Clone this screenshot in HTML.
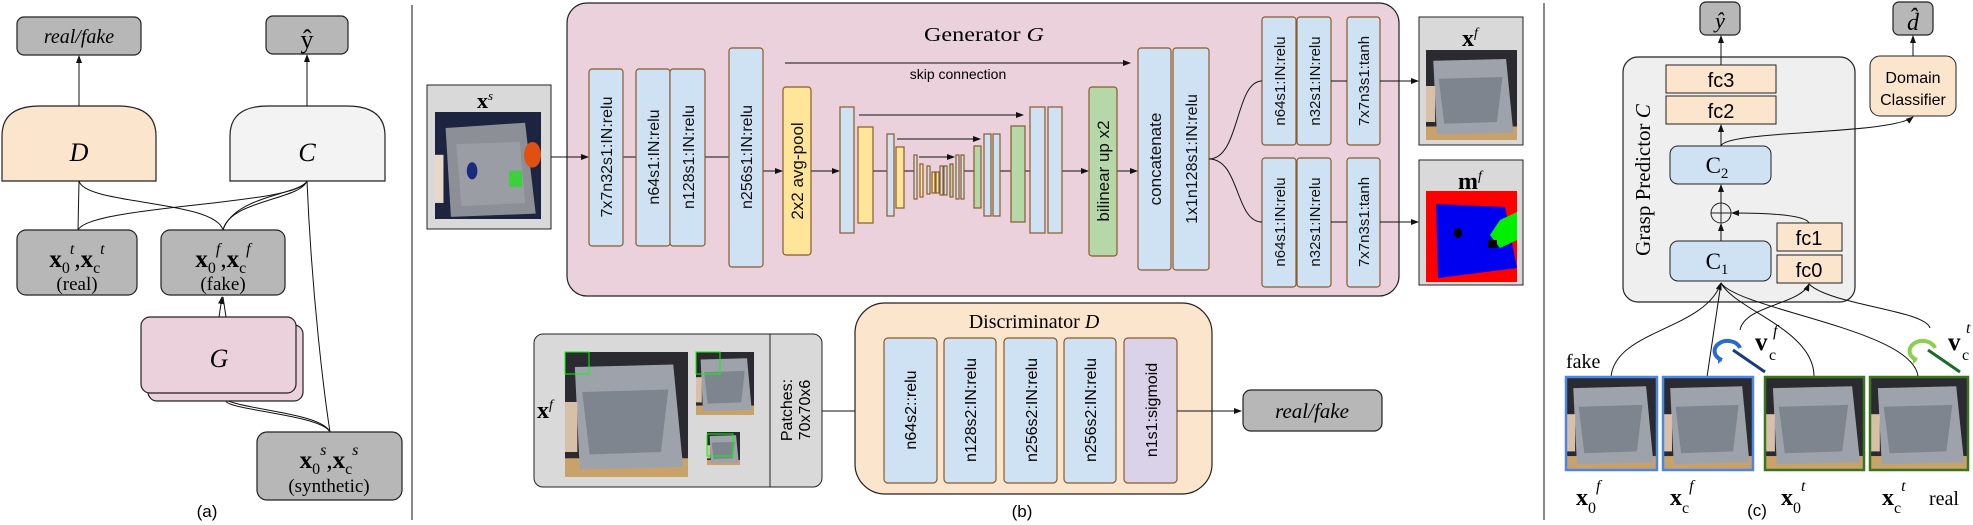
<!DOCTYPE html>
<html><head><meta charset="utf-8"><style>
html,body{margin:0;padding:0;background:#fff;}
svg{display:block;}
.s{font-family:"Liberation Sans",sans-serif;}
.r{font-family:"Liberation Serif",serif;}
</style></head><body>
<svg width="1973" height="525" viewBox="0 0 1973 525" xmlns="http://www.w3.org/2000/svg">
<defs>
<marker id="a" markerWidth="8" markerHeight="8" refX="7" refY="4" orient="auto" markerUnits="userSpaceOnUse"><path d="M0,1 L8,4 L0,7 z" fill="#111"/></marker>
<g id="tray">
<rect x="0" y="0" width="100" height="100" fill="#2a2a30"/>
<rect x="0" y="85" width="100" height="15" fill="#c9a26a"/>
<polygon points="8,12 88,10 96,92 12,94" fill="#9ea3ab"/>
<polygon points="14,32 84,30 78,80 20,82" fill="#7f858f"/>
<rect x="0" y="40" width="10" height="40" fill="#d8c0a8"/>
</g>
</defs>
<g fill="none" stroke="#111" stroke-width="1.3">
<line x1="412" y1="5" x2="412" y2="520" stroke-width="1"/>
<line x1="1544" y1="3" x2="1544" y2="520" stroke-width="1"/>
</g>

<!-- ===== Panel (a) ===== -->
<rect x="17" y="17" width="124" height="38" rx="7" fill="#b7b7b7" stroke="#222" stroke-width="1.2"/>
<text x="79" y="43" class="r" font-size="20" font-style="italic" text-anchor="middle">real/fake</text>
<rect x="266" y="16" width="82" height="38" rx="7" fill="#b7b7b7" stroke="#222" stroke-width="1.2"/>
<text x="307" y="48" class="r" font-size="26" text-anchor="middle">ŷ</text>
<path d="M2,181 V136 Q2,106 40,106 H118 Q156,106 156,136 V181 Z" fill="#fce5cd" stroke="#222" stroke-width="1.2"/>
<text x="79" y="161" class="r" font-size="26" font-style="italic" text-anchor="middle">D</text>
<path d="M230,181 V136 Q230,106 268,106 H347 Q385,106 385,136 V181 Z" fill="#f3f3f3" stroke="#222" stroke-width="1.2"/>
<text x="307" y="161" class="r" font-size="26" font-style="italic" text-anchor="middle">C</text>
<g stroke="#111" stroke-width="1" fill="none">
<line x1="79" y1="106" x2="79" y2="56" marker-end="url(#a)"/>
<line x1="307" y1="106" x2="307" y2="55" marker-end="url(#a)"/>
<path d="M79,181 L78,230"/>
<path d="M79,181 C85,205 215,200 223,230"/>
<path d="M307,181 C300,205 90,205 78,230"/>
<path d="M307,181 C300,200 230,200 223,230"/>
<path d="M307,181 C300,195 235,195 223,230"/>
<path d="M307,181 C312,300 325,400 330,432"/>
<path d="M218,393 C220,410 320,410 330,432"/>
<path d="M226,401 C228,410 322,415 330,432"/>
<line x1="219" y1="317" x2="222" y2="297" marker-end="url(#a)"/>
<line x1="226" y1="317" x2="223" y2="297"/>
</g>
<rect x="17" y="230" width="120" height="65" rx="9" fill="#b7b7b7" stroke="#222" stroke-width="1.2"/>
<text x="77" y="267" class="r" font-size="25" text-anchor="middle"><tspan font-weight="bold">x</tspan><tspan font-size="16" dy="6">0</tspan><tspan font-size="16" dy="-19" font-style="italic">t</tspan><tspan dy="13">,</tspan><tspan font-weight="bold">x</tspan><tspan font-size="16" dy="6">c</tspan><tspan font-size="16" dy="-19" font-style="italic">t</tspan></text>
<text x="77" y="290" class="r" font-size="19" text-anchor="middle">(real)</text>
<rect x="161" y="230" width="124" height="65" rx="9" fill="#b7b7b7" stroke="#222" stroke-width="1.2"/>
<text x="223" y="267" class="r" font-size="25" text-anchor="middle"><tspan font-weight="bold">x</tspan><tspan font-size="16" dy="6">0</tspan><tspan font-size="16" dy="-19" font-style="italic">f</tspan><tspan dy="13">,</tspan><tspan font-weight="bold">x</tspan><tspan font-size="16" dy="6">c</tspan><tspan font-size="16" dy="-19" font-style="italic">f</tspan></text>
<text x="223" y="290" class="r" font-size="19" text-anchor="middle">(fake)</text>
<rect x="148" y="325" width="155" height="76" rx="9" fill="#ead1dc" stroke="#222" stroke-width="1.2"/>
<rect x="141" y="317" width="155" height="76" rx="9" fill="#ead1dc" stroke="#222" stroke-width="1.2"/>
<text x="219" y="367" class="r" font-size="26" font-style="italic" text-anchor="middle">G</text>
<rect x="257" y="432" width="145" height="68" rx="10" fill="#b7b7b7" stroke="#222" stroke-width="1.2"/>
<text x="329" y="468" class="r" font-size="25" text-anchor="middle"><tspan font-weight="bold">x</tspan><tspan font-size="16" dy="6">0</tspan><tspan font-size="16" dy="-19" font-style="italic">s</tspan><tspan dy="13">,</tspan><tspan font-weight="bold">x</tspan><tspan font-size="16" dy="6">c</tspan><tspan font-size="16" dy="-19" font-style="italic">s</tspan></text>
<text x="329" y="492" class="r" font-size="19" text-anchor="middle">(synthetic)</text>
<text x="207" y="517" class="s" font-size="17" text-anchor="middle">(a)</text>

<!-- ===== Panel (b) Generator ===== -->
<rect x="567" y="3" width="832" height="293" rx="20" fill="#ead1dc" stroke="#222" stroke-width="1.2"/>
<text x="984" y="41" class="r" font-size="20" text-anchor="middle" textLength="120" lengthAdjust="spacingAndGlyphs">Generator <tspan font-style="italic">G</tspan></text>
<line x1="785" y1="63" x2="1130" y2="63" stroke="#111" stroke-width="1" marker-end="url(#a)"/>
<text x="958" y="79" class="s" font-size="14" text-anchor="middle">skip connection</text>
<rect x="427" y="85" width="124" height="144" fill="#d9d9d9" stroke="#222" stroke-width="1"/>
<text x="485" y="108" class="r" font-size="22" font-weight="bold" text-anchor="middle">x<tspan font-size="13" dy="-8" font-style="italic" font-weight="normal">s</tspan></text>
<svg x="435" y="112" width="106" height="107" viewBox="0 0 100 100" preserveAspectRatio="none">
<rect width="100" height="100" fill="#1c2440"/><polygon points="10,15 85,10 95,95 15,98" fill="#8c8f96"/><polygon points="20,30 80,28 85,85 25,88" fill="#9a9da3"/><ellipse cx="35" cy="55" rx="5" ry="8" fill="#1a2a80"/><rect x="70" y="55" width="12" height="15" fill="#3ad13a"/><ellipse cx="92" cy="40" rx="8" ry="12" fill="#e05010"/><rect y="40" width="8" height="45" fill="#e8d8c8"/></svg>
<g stroke="#111" stroke-width="1" fill="none">
<line x1="551" y1="157" x2="588" y2="157" marker-end="url(#a)"/>
<line x1="623" y1="157" x2="636" y2="157"/>
<line x1="705" y1="157" x2="729" y2="157"/>
<line x1="763" y1="171" x2="782" y2="171" marker-end="url(#a)"/>
<line x1="811" y1="171" x2="839" y2="171" marker-end="url(#a)"/>
<line x1="1062" y1="171" x2="1088" y2="171" marker-end="url(#a)"/>
<line x1="1117" y1="171" x2="1137" y2="171" marker-end="url(#a)"/>
<line x1="873" y1="171" x2="887" y2="171"/><line x1="904" y1="171" x2="914" y2="171"/>
<line x1="964" y1="171" x2="974" y2="171"/><line x1="1000" y1="171" x2="1011" y2="171"/>
<line x1="1025" y1="171" x2="1030" y2="171"/>
<line x1="859" y1="115" x2="1023" y2="115" marker-end="url(#a)"/>
<line x1="897" y1="139" x2="980" y2="139" marker-end="url(#a)"/>
<line x1="919" y1="157" x2="954" y2="157" marker-end="url(#a)"/>
</g>
<g stroke="#8a5a2a" stroke-width="1.2">
<rect x="589" y="69" width="34" height="177" rx="3" fill="#cfe2f3"/>
<rect x="636" y="69" width="34" height="177" rx="3" fill="#cfe2f3"/>
<rect x="670" y="69" width="35" height="177" rx="3" fill="#cfe2f3"/>
<rect x="729" y="48" width="34" height="219" rx="3" fill="#cfe2f3"/>
<rect x="783" y="87" width="28" height="168" rx="3" fill="#ffe599"/>
<rect x="840" y="107" width="14" height="126" fill="#cfe2f3"/>
<rect x="858" y="127" width="15" height="96" fill="#ffe599"/>
<rect x="887" y="134" width="7" height="82" fill="#cfe2f3"/>
<rect x="896" y="147" width="8" height="61" fill="#ffe599"/>
<rect x="914" y="155" width="3" height="44" fill="#cfe2f3"/>
<rect x="920" y="164" width="3" height="33" fill="#ffe599"/>
<rect x="927" y="166" width="3" height="28" fill="#cfe2f3"/>
<rect x="932" y="172" width="3" height="21" fill="#ffe599"/>
<rect x="936" y="172" width="3" height="21" fill="#ffe599"/>
<rect x="940" y="166" width="3" height="29" fill="#cfe2f3"/>
<rect x="944" y="166" width="3" height="29" fill="#cfe2f3"/>
<rect x="950" y="164" width="3" height="33" fill="#b6d7a8"/>
<rect x="956" y="155" width="3" height="44" fill="#cfe2f3"/>
<rect x="961" y="155" width="3" height="44" fill="#cfe2f3"/>
<rect x="974" y="146" width="7" height="62" fill="#b6d7a8"/>
<rect x="984" y="134" width="7" height="82" fill="#cfe2f3"/>
<rect x="993" y="134" width="7" height="82" fill="#cfe2f3"/>
<rect x="1011" y="126" width="14" height="96" fill="#b6d7a8"/>
<rect x="1030" y="107" width="15" height="126" fill="#cfe2f3"/>
<rect x="1048" y="107" width="14" height="126" fill="#cfe2f3"/>
<rect x="1089" y="87" width="28" height="169" rx="3" fill="#b6d7a8"/>
<rect x="1138" y="48" width="33" height="222" rx="3" fill="#cfe2f3"/>
<rect x="1173" y="48" width="36" height="222" rx="3" fill="#cfe2f3"/>
<rect x="1262" y="17" width="34" height="128" rx="3" fill="#cfe2f3"/>
<rect x="1297" y="17" width="34" height="128" rx="3" fill="#cfe2f3"/>
<rect x="1347" y="17" width="33" height="128" rx="3" fill="#cfe2f3"/>
<rect x="1262" y="158" width="34" height="129" rx="3" fill="#cfe2f3"/>
<rect x="1297" y="158" width="34" height="129" rx="3" fill="#cfe2f3"/>
<rect x="1347" y="158" width="33" height="129" rx="3" fill="#cfe2f3"/>
</g>
<g class="s" font-size="16" text-anchor="middle" fill="#111">
<text transform="translate(612,157) rotate(-90)">7x7n32s1:IN:relu</text>
<text transform="translate(659,157) rotate(-90)">n64s1:IN:relu</text>
<text transform="translate(694,157) rotate(-90)">n128s1:IN:relu</text>
<text transform="translate(752,157) rotate(-90)">n256s1:IN:relu</text>
<text transform="translate(803,171) rotate(-90)" font-size="17">2x2 avg-pool</text>
<text transform="translate(1109,171) rotate(-90)" font-size="17">bilinear up x2</text>
<text transform="translate(1161,159) rotate(-90)" font-size="17">concatenate</text>
<text transform="translate(1197,159) rotate(-90)">1x1n128s1:IN:relu</text>
<text transform="translate(1285,81) rotate(-90)" font-size="15">n64s1:IN:relu</text>
<text transform="translate(1320,81) rotate(-90)" font-size="15">n32s1:IN:relu</text>
<text transform="translate(1369,81) rotate(-90)" font-size="15">7x7n3s1:tanh</text>
<text transform="translate(1285,222) rotate(-90)" font-size="15">n64s1:IN:relu</text>
<text transform="translate(1320,222) rotate(-90)" font-size="15">n32s1:IN:relu</text>
<text transform="translate(1369,222) rotate(-90)" font-size="15">7x7n3s1:tanh</text>
</g>
<g stroke="#111" stroke-width="1" fill="none">
<path d="M1209,159 C1240,159 1235,81 1262,81"/>
<path d="M1209,159 C1240,159 1235,222 1262,222"/>
<line x1="1331" y1="81" x2="1347" y2="81"/><line x1="1331" y1="222" x2="1347" y2="222"/>
<line x1="1380" y1="81" x2="1418" y2="81" marker-end="url(#a)"/>
<line x1="1380" y1="222" x2="1418" y2="222" marker-end="url(#a)"/>
</g>
<rect x="1419" y="17" width="104" height="128" fill="#d9d9d9" stroke="#222" stroke-width="1"/>
<text x="1470" y="46" class="r" font-size="24" font-weight="bold" text-anchor="middle">x<tspan font-size="14" dy="-9" font-style="italic" font-weight="normal">f</tspan></text>
<svg x="1426" y="50" width="91" height="90" viewBox="0 0 100 100" preserveAspectRatio="none"><use href="#tray"/></svg>
<rect x="1419" y="160" width="104" height="125" fill="#d9d9d9" stroke="#222" stroke-width="1"/>
<text x="1470" y="189" class="r" font-size="24" font-weight="bold" text-anchor="middle">m<tspan font-size="14" dy="-9" font-style="italic" font-weight="normal">f</tspan></text>
<rect x="1426" y="191" width="91" height="91" fill="#f00"/>
<polygon points="1436,204 1505,207 1517,268 1438,278" fill="#0000f0"/>
<polygon points="1500,220 1517,212 1517,240 1500,248 1490,235" fill="#00f000"/>
<ellipse cx="1458" cy="233" rx="4" ry="5" fill="#000"/>
<rect x="1488" y="240" width="9" height="8" fill="#000"/>

<!-- Discriminator -->
<rect x="534" y="334" width="288" height="153" rx="9" fill="#d9d9d9" stroke="#222" stroke-width="1"/>
<line x1="770" y1="334" x2="770" y2="487" stroke="#222" stroke-width="1"/>
<text x="545" y="418" class="r" font-size="24" font-weight="bold" text-anchor="middle">x<tspan font-size="14" dy="-9" font-style="italic" font-weight="normal">f</tspan></text>
<svg x="565" y="352" width="123" height="125" viewBox="0 0 100 100" preserveAspectRatio="none"><use href="#tray"/></svg>
<rect x="565" y="352" width="24" height="22" fill="none" stroke="#0f0" stroke-width="1"/>
<svg x="696" y="352" width="58" height="63" viewBox="0 0 100 100" preserveAspectRatio="none"><use href="#tray"/></svg>
<rect x="696" y="352" width="24" height="22" fill="none" stroke="#0f0" stroke-width="1"/>
<svg x="707" y="432" width="33" height="33" viewBox="0 0 100 100" preserveAspectRatio="none"><use href="#tray"/></svg>
<rect x="707" y="434" width="26" height="22" fill="none" stroke="#0f0" stroke-width="1"/>
<text transform="translate(796,410) rotate(-90)" class="s" font-size="16" text-anchor="middle"><tspan x="0" dy="-4">Patches:</tspan><tspan x="0" dy="18">70x70x6</tspan></text>
<line x1="822" y1="411" x2="883" y2="411" stroke="#111" stroke-width="1" marker-end="url(#a)"/>
<rect x="855" y="303" width="357" height="191" rx="30" fill="#fce5cd" stroke="#222" stroke-width="1.2"/>
<text x="1034" y="328" class="r" font-size="20" text-anchor="middle">Discriminator <tspan font-style="italic">D</tspan></text>
<g stroke="#8a5a2a" stroke-width="1.2">
<rect x="884" y="338" width="53" height="145" rx="4" fill="#cfe2f3"/>
<rect x="944" y="338" width="52" height="145" rx="4" fill="#cfe2f3"/>
<rect x="1004" y="338" width="53" height="145" rx="4" fill="#cfe2f3"/>
<rect x="1064" y="338" width="52" height="145" rx="4" fill="#cfe2f3"/>
<rect x="1124" y="338" width="53" height="145" rx="4" fill="#d9d2e9"/>
</g>
<g class="s" font-size="16" text-anchor="middle">
<text transform="translate(916,410) rotate(-90)">n64s2::relu</text>
<text transform="translate(976,410) rotate(-90)">n128s2:IN:relu</text>
<text transform="translate(1037,410) rotate(-90)">n256s2:IN:relu</text>
<text transform="translate(1096,410) rotate(-90)">n256s2:IN:relu</text>
<text transform="translate(1157,410) rotate(-90)">n1s1:sigmoid</text>
</g>
<line x1="1177" y1="411" x2="1241" y2="411" stroke="#111" stroke-width="1" marker-end="url(#a)"/>
<rect x="1243" y="390" width="139" height="41" rx="8" fill="#b7b7b7" stroke="#222" stroke-width="1.2"/>
<text x="1312" y="418" class="r" font-size="21" font-style="italic" text-anchor="middle">real/fake</text>
<text x="1022" y="517" class="s" font-size="17" text-anchor="middle">(b)</text>

<!-- ===== Panel (c) ===== -->
<rect x="1700" y="2" width="40" height="33" rx="6" fill="#b7b7b7" stroke="#222" stroke-width="1.2"/>
<text x="1720" y="28" class="r" font-size="22" font-style="italic" text-anchor="middle">ŷ</text>
<rect x="1893" y="2" width="40" height="33" rx="6" fill="#b7b7b7" stroke="#222" stroke-width="1.2"/>
<text x="1913" y="30" class="r" font-size="24" font-style="italic" text-anchor="middle">d̂</text>
<rect x="1623" y="57" width="232" height="245" rx="15" fill="#efefef" stroke="#222" stroke-width="1.2"/>
<text transform="translate(1650,180) rotate(-90)" class="r" font-size="21" text-anchor="middle">Grasp Predictor <tspan font-style="italic">C</tspan></text>
<rect x="1666" y="65" width="110" height="28" fill="#fce5cd" stroke="#222" stroke-width="1"/>
<text x="1721" y="87" class="s" font-size="20" text-anchor="middle">fc3</text>
<rect x="1666" y="96" width="110" height="28" fill="#fce5cd" stroke="#222" stroke-width="1"/>
<text x="1721" y="118" class="s" font-size="20" text-anchor="middle">fc2</text>
<rect x="1670" y="146" width="101" height="38" rx="8" fill="#cfe2f3" stroke="#222" stroke-width="1"/>
<text x="1717" y="173" class="r" font-size="23" text-anchor="middle">C<tspan font-size="15" dy="5">2</tspan></text>
<circle cx="1721" cy="213" r="10" fill="none" stroke="#222" stroke-width="1"/>
<line x1="1711" y1="213" x2="1731" y2="213" stroke="#222" stroke-width="1"/><line x1="1721" y1="203" x2="1721" y2="223" stroke="#222" stroke-width="1"/>
<rect x="1670" y="241" width="101" height="40" rx="8" fill="#cfe2f3" stroke="#222" stroke-width="1"/>
<text x="1717" y="269" class="r" font-size="23" text-anchor="middle">C<tspan font-size="15" dy="5">1</tspan></text>
<rect x="1777" y="223" width="65" height="28" fill="#fce5cd" stroke="#222" stroke-width="1"/>
<text x="1809" y="245" class="s" font-size="20" text-anchor="middle">fc1</text>
<rect x="1777" y="255" width="65" height="28" fill="#fce5cd" stroke="#222" stroke-width="1"/>
<text x="1809" y="277" class="s" font-size="20" text-anchor="middle">fc0</text>
<rect x="1870" y="56" width="86" height="60" rx="10" fill="#fce5cd" stroke="#222" stroke-width="1"/>
<text x="1913" y="83" class="s" font-size="16" text-anchor="middle">Domain</text>
<text x="1913" y="105" class="s" font-size="16" text-anchor="middle">Classifier</text>
<g stroke="#111" stroke-width="1" fill="none">
<line x1="1721" y1="65" x2="1721" y2="36" marker-end="url(#a)"/>
<line x1="1913" y1="56" x2="1913" y2="36" marker-end="url(#a)"/>
<line x1="1721" y1="146" x2="1721" y2="125" marker-end="url(#a)"/>
<line x1="1721" y1="203" x2="1721" y2="185" marker-end="url(#a)"/>
<line x1="1721" y1="241" x2="1721" y2="224" marker-end="url(#a)"/>
<path d="M1809,223 C1805,214 1760,213 1732,213" marker-end="url(#a)"/>
<path d="M1721,146 C1725,130 1890,135 1913,117" marker-end="url(#a)"/>
<path d="M1611,377 C1615,330 1705,330 1721,283" marker-end="url(#a)"/>
<path d="M1707,377 L1721,283"/>
<path d="M1814,377 C1815,330 1735,310 1721,283"/>
<path d="M1918,377 C1915,330 1740,310 1721,283"/>
<path d="M1740,330 C1745,305 1800,305 1809,284" marker-end="url(#a)"/>
<path d="M1930,328 C1925,310 1830,305 1809,284"/>
</g>
<path d="M1740,348 A13,10 0 1 0 1722,360" fill="none" stroke="#2a6ad0" stroke-width="4"/>
<path d="M1722,360 l-4,-5 l0,9 z" fill="#2a6ad0"/>
<line x1="1733" y1="350" x2="1765" y2="372" stroke="#1a3a80" stroke-width="3"/>
<text x="1755" y="350" class="r" font-size="25" font-weight="bold">v</text>
<text x="1769" y="360" class="r" font-size="16">c</text>
<text x="1773" y="336" class="r" font-size="16" font-style="italic">f</text>
<path d="M1935,348 A13,10 0 1 0 1917,360" fill="none" stroke="#8ad04a" stroke-width="4"/>
<path d="M1917,360 l-4,-5 l0,9 z" fill="#8ad04a"/>
<line x1="1928" y1="350" x2="1960" y2="372" stroke="#1a6a2a" stroke-width="3"/>
<text x="1948" y="350" class="r" font-size="25" font-weight="bold">v</text>
<text x="1962" y="360" class="r" font-size="16">c</text>
<text x="1966" y="333" class="r" font-size="16" font-style="italic">t</text>
<text x="1566" y="368" class="r" font-size="20">fake</text>
<svg x="1566" y="377" width="91" height="93" viewBox="0 0 100 100" preserveAspectRatio="none"><use href="#tray"/></svg>
<rect x="1566" y="377" width="91" height="93" fill="none" stroke="#4a86e8" stroke-width="2.5"/>
<svg x="1663" y="377" width="90" height="93" viewBox="0 0 100 100" preserveAspectRatio="none"><use href="#tray"/></svg>
<rect x="1663" y="377" width="90" height="93" fill="none" stroke="#4a86e8" stroke-width="2.5"/>
<svg x="1765" y="377" width="99" height="93" viewBox="0 0 100 100" preserveAspectRatio="none"><use href="#tray"/></svg>
<rect x="1765" y="377" width="99" height="93" fill="none" stroke="#38761d" stroke-width="2.5"/>
<svg x="1870" y="377" width="98" height="93" viewBox="0 0 100 100" preserveAspectRatio="none"><use href="#tray"/></svg>
<rect x="1870" y="377" width="98" height="93" fill="none" stroke="#38761d" stroke-width="2.5"/>
<g class="r" font-size="24">
<text x="1576" y="505"><tspan font-weight="bold">x</tspan><tspan font-size="16" dy="8">0</tspan><tspan font-size="16" dy="-22" font-style="italic">f</tspan></text>
<text x="1670" y="505"><tspan font-weight="bold">x</tspan><tspan font-size="16" dy="8">c</tspan><tspan font-size="16" dy="-22" font-style="italic">f</tspan></text>
<text x="1781" y="505"><tspan font-weight="bold">x</tspan><tspan font-size="16" dy="8">0</tspan><tspan font-size="16" dy="-22" font-style="italic">t</tspan></text>
<text x="1882" y="505"><tspan font-weight="bold">x</tspan><tspan font-size="16" dy="8">c</tspan><tspan font-size="16" dy="-22" font-style="italic">t</tspan></text>
<text x="1929" y="505" font-size="20">real</text>
</g>
<text x="1757" y="516" class="s" font-size="17" text-anchor="middle">(c)</text>
</svg>
</body></html>
